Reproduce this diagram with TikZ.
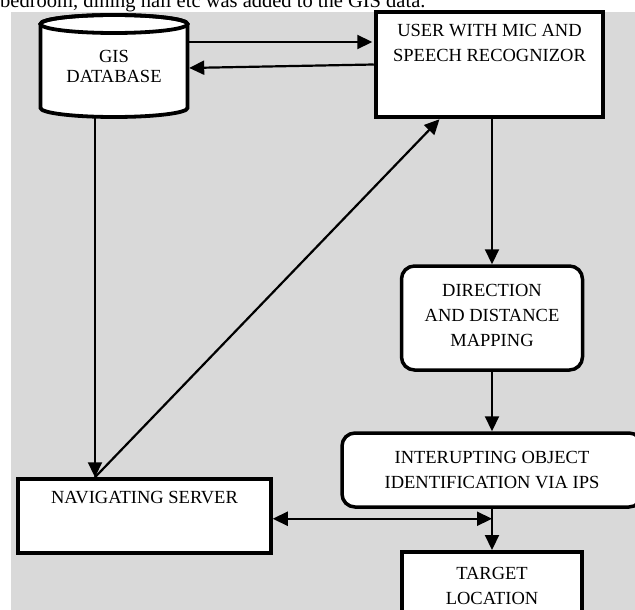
\documentclass[tikz,border=0pt]{standalone}
\usepackage{fontspec}
\setmainfont{Liberation Serif}
\usetikzlibrary{arrows.meta}
\definecolor{bggray}{RGB}{217,217,217}
\newcommand{\tbox}[3]{\parbox[c][#1][t]{#2}{\centering #3}}
\begin{document}
\begin{tikzpicture}[x=1pt,y=-1pt,
  box/.style={draw, fill=white, line width=3.5pt, inner sep=0pt, font=\fontsize{18.5}{25}\selectfont},
  rbox/.style={box, rounded corners=13pt},
  arr/.style={line width=2.2pt, -{Triangle[length=15pt,width=14pt]}},
  darr/.style={line width=2.2pt, {Triangle[length=15pt,width=14pt]}-{Triangle[length=15pt,width=14pt]}},
]
\useasboundingbox (0,0) rectangle (635,610);
\clip (0,0) rectangle (635,610);
\node[anchor=base west, inner sep=0pt, font=\fontsize{20.5}{24}\selectfont] (cap) at (0,8) {bedroom, dining hall etc was added to the GIS data.};
\fill[bggray] (11,12) rectangle (635,610);
% cylinder
\draw[line width=3.8pt, fill=white] (40.5,24) -- (40.5,108)
  arc[start angle=180, end angle=0, x radius=73.5, y radius=9] -- (187.5,24)
  arc[start angle=0, end angle=-180, x radius=73.5, y radius=9] -- cycle;
\draw[line width=3.8pt] (114,24) ellipse [x radius=73.5, y radius=9];
\node[minimum width=147pt, minimum height=102pt, inner sep=0pt, align=center,
  font=\fontsize{18.5}{20}\selectfont] (gis) at (114,66) {GIS\\DATABASE};
\node[box, line width=4.5pt, minimum width=227pt, minimum height=105pt] (user) at (489.5,64.5)
  {\tbox{79.8pt}{220pt}{USER WITH MIC AND\\SPEECH RECOGNIZOR}};
\node[box, minimum width=253pt, minimum height=74pt] (nav) at (144.5,516)
  {\tbox{48.8pt}{245pt}{NAVIGATING SERVER}};
\node[rbox, minimum width=181pt, minimum height=104pt] (dir) at (492,318)
  {\tbox{66.8pt}{175pt}{DIRECTION\\AND DISTANCE\\MAPPING}};
\node[rbox, minimum width=300pt, minimum height=74pt, align=center] (int) at (492,470)
  {INTERUPTING OBJECT\\IDENTIFICATION VIA IPS};
\node[box, line width=4pt, minimum width=180pt, minimum height=68pt, align=center] (tgt) at (492,586)
  {TARGET\\LOCATION};
% connectors
\draw[arr, shorten >=1.5pt] ([yshift=24pt]gis.east) -- ([yshift=24pt]gis.east -| user.west);
\draw[arr, shorten >=1.5pt] (user.west) -- ([yshift=-2pt]gis.east);
\draw[arr] ([xshift=-19pt]gis.south) -- ([xshift=-19pt]gis.south |- nav.north);
\draw[arr] ([xshift=-49.5pt]nav.north) -- ([xshift=-50pt]user.south);
\draw[arr] (user.south -| dir.north) -- (dir.north);
\draw[arr] (dir.south) -- (int.north);
\draw[arr] (int.south) -- (tgt.north);
\coordinate (hx) at ([yshift=-10pt]int.south);
\draw[darr] (hx -| nav.east) -- (hx);
\end{tikzpicture}
\end{document}
